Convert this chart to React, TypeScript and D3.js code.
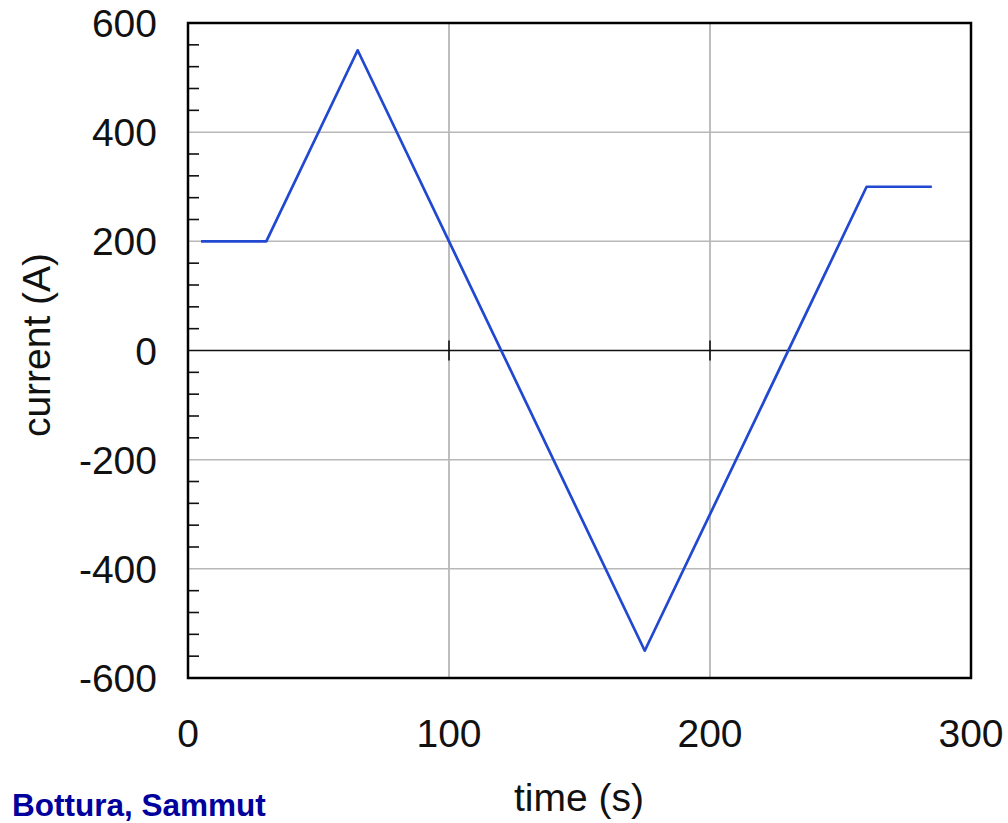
import * as d3 from 'd3';
import React, { useEffect, useRef } from 'react';

// waveform: time (s), current (A)
const times = [5, 30, 65, 175, 260, 285];
const currents = [200, 200, 550, -550, 300, 300];
const xTicks = [0, 100, 200, 300];
const yTicks = [-600, -400, -200, 0, 200, 400, 600];

const App = () => {
  const ref = useRef<SVGSVGElement>(null);

  useEffect(() => {
    const svg = d3.select(ref.current);
    svg.selectAll('*').remove();

    const left = 188, right = 971, top = 23, bottom = 678;
    const font = 'Liberation Sans, Arial, sans-serif';

    const x = d3.scaleLinear().domain([0, 300]).range([left, right]);
    const y = d3.scaleLinear().domain([-600, 600]).range([bottom, top]);

    // grid
    svg.append('g')
      .selectAll('line')
      .data(xTicks.filter(d => d > 0 && d < 300))
      .join('line')
      .attr('x1', d => x(d)).attr('x2', d => x(d))
      .attr('y1', top).attr('y2', bottom)
      .attr('stroke', '#a8a8a8').attr('stroke-width', 1.5);

    svg.append('g')
      .selectAll('line')
      .data(yTicks.filter(d => d !== 0 && Math.abs(d) < 600))
      .join('line')
      .attr('x1', left).attr('x2', right)
      .attr('y1', d => y(d)).attr('y2', d => y(d))
      .attr('stroke', '#b8b8b8').attr('stroke-width', 1.5);

    // zero line
    svg.append('line')
      .attr('x1', left).attr('x2', right)
      .attr('y1', y(0)).attr('y2', y(0))
      .attr('stroke', '#111').attr('stroke-width', 1.6);

    // small crosses on the zero line
    svg.append('g')
      .selectAll('line')
      .data([100, 200])
      .join('line')
      .attr('x1', d => x(d)).attr('x2', d => x(d))
      .attr('y1', y(0) - 10).attr('y2', y(0) + 10)
      .attr('stroke', '#111').attr('stroke-width', 1.6);

    // minor y ticks every 40 A, pointing inward
    const minor = d3.range(-560, 600, 40).filter(d => d % 200 !== 0);
    svg.append('g')
      .selectAll('line')
      .data(minor)
      .join('line')
      .attr('x1', left).attr('x2', left + 11)
      .attr('y1', d => y(d)).attr('y2', d => y(d))
      .attr('stroke', '#111').attr('stroke-width', 1.6);

    // frame
    svg.append('rect')
      .attr('x', left).attr('y', top)
      .attr('width', right - left).attr('height', bottom - top)
      .attr('fill', 'none').attr('stroke', '#000').attr('stroke-width', 2.5);

    // the curve
    const pts = times.map((t, i) => [t, currents[i]] as [number, number]);
    svg.append('path')
      .datum(pts)
      .attr('fill', 'none')
      .attr('stroke', '#2148d0')
      .attr('stroke-width', 2.7)
      .attr('stroke-linejoin', 'round')
      .attr('d', d3.line<[number, number]>().x(d => x(d[0])).y(d => y(d[1])));

    // tick labels
    svg.append('g')
      .selectAll('text')
      .data(yTicks)
      .join('text')
      .attr('x', 157).attr('y', d => y(d))
      .attr('dy', '0.36em')
      .attr('text-anchor', 'end')
      .attr('font-family', font).attr('font-size', 39)
      .attr('fill', '#111')
      .text(d => String(d));

    svg.append('g')
      .selectAll('text')
      .data(xTicks)
      .join('text')
      .attr('x', d => x(d)).attr('y', 747)
      .attr('text-anchor', 'middle')
      .attr('font-family', font).attr('font-size', 39)
      .attr('fill', '#111')
      .text(d => String(d));

    // axis titles
    svg.append('text')
      .attr('x', 579).attr('y', 811)
      .attr('text-anchor', 'middle')
      .attr('font-family', font).attr('font-size', 39)
      .attr('fill', '#111')
      .text('time (s)');

    svg.append('text')
      .attr('transform', 'translate(50,345) rotate(-90)')
      .attr('text-anchor', 'middle')
      .attr('font-family', font).attr('font-size', 39)
      .attr('fill', '#111')
      .text('current (A)');

    svg.append('text')
      .attr('x', 12).attr('y', 816)
      .attr('font-family', font).attr('font-size', 31.5)
      .attr('font-weight', 'bold')
      .attr('fill', '#00009c')
      .text('Bottura, Sammut');
  }, []);

  return (
    <svg ref={ref} width={1008} height={823}
      style={{ position: 'absolute', left: 0, top: 0, background: '#fff' }} />
  );
};

export default App;
